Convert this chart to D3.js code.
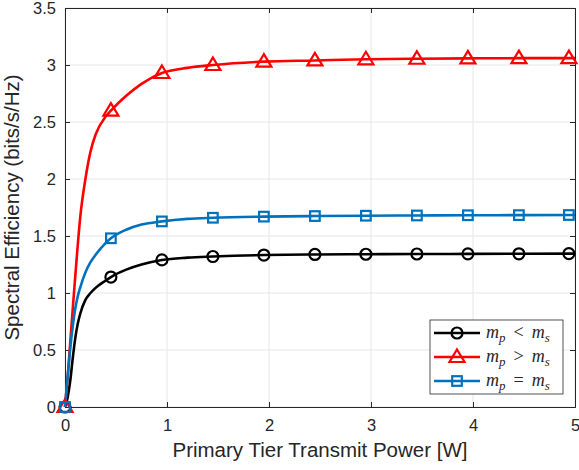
<!DOCTYPE html>
<html>
<head>
<meta charset="utf-8">
<script src="https://cdn.jsdelivr.net/npm/d3@7"></script>
<style>
  body { margin: 0; background: #fff; }
  svg text { font-family: "Liberation Sans", Arial, Helvetica, sans-serif; fill: #262626; }
</style>
</head>
<body>
<script>
// curve samples
const powerW = [0, 0.025, 0.05, 0.075, 0.1, 0.125, 0.15, 0.2, 0.25, 0.3, 0.4, 0.45, 0.6, 0.75, 0.95, 1.2, 1.45, 1.95, 2.45, 2.95, 3.45, 3.95, 4.45, 5]
const seLess = [0, 0.08, 0.22, 0.42, 0.6, 0.73, 0.82, 0.94, 1.0, 1.045, 1.11, 1.14, 1.205, 1.25, 1.29, 1.31, 1.32, 1.333, 1.338, 1.34, 1.342, 1.343, 1.344, 1.345]
const seGreater = [0, 0.25, 0.55, 0.85, 1.14, 1.42, 1.67, 2.0, 2.24, 2.39, 2.55, 2.6, 2.73, 2.835, 2.93, 2.975, 3.0, 3.03, 3.04, 3.05, 3.055, 3.058, 3.06, 3.06]
const seEqual = [0, 0.26, 0.5, 0.7, 0.86, 0.97, 1.05, 1.18, 1.27, 1.335, 1.44, 1.48, 1.555, 1.6, 1.628, 1.65, 1.66, 1.67, 1.675, 1.678, 1.68, 1.682, 1.683, 1.684]

// marker positions
const markerX = [0, 0.45, 0.95, 1.45, 1.95, 2.45, 2.95, 3.45, 3.95, 4.45, 4.94]
const mkLess = [0, 1.14, 1.29, 1.32, 1.333, 1.338, 1.34, 1.342, 1.343, 1.344, 1.345]
const mkGreater = [0, 2.6, 2.93, 3.0, 3.03, 3.04, 3.05, 3.055, 3.058, 3.06, 3.06]
const mkEqual = [0, 1.48, 1.628, 1.66, 1.67, 1.675, 1.678, 1.68, 1.682, 1.683, 1.684]

const xTicks = [0, 1, 2, 3, 4, 5]
const yTicks = [0, 0.5, 1, 1.5, 2, 2.5, 3, 3.5]

const series = [
  { name: "less", ys: seLess, mk: mkLess, color: "#000000", marker: "circle", rel: "<" },
  { name: "greater", ys: seGreater, mk: mkGreater, color: "#ff0000", marker: "triangle", rel: ">" },
  { name: "equal", ys: seEqual, mk: mkEqual, color: "#0072bd", marker: "square", rel: "=" }
]

const W = 579, H = 470
const margin = { left: 65, right: 4, top: 8, bottom: 63 }

const svg = d3.select("body").append("svg")
  .attr("width", W)
  .attr("height", H)

const x = d3.scaleLinear().domain([0, 5]).range([margin.left, W - margin.right])
const y = d3.scaleLinear().domain([0, 3.5]).range([H - margin.bottom, margin.top])

// grid
svg.append("g").selectAll("line")
  .data(xTicks)
  .enter().append("line")
  .attr("x1", d => x(d)).attr("x2", d => x(d))
  .attr("y1", y(0)).attr("y2", y(3.5))
  .attr("stroke", "#e6e6e6").attr("stroke-width", 1)

svg.append("g").selectAll("line")
  .data(yTicks)
  .enter().append("line")
  .attr("x1", x(0)).attr("x2", x(5))
  .attr("y1", d => y(d)).attr("y2", d => y(d))
  .attr("stroke", "#e6e6e6").attr("stroke-width", 1)

// axes (ticks inward on all four sides)
const xAxis = svg.append("g")
  .attr("transform", `translate(0,${y(0)})`)
  .call(d3.axisBottom(x).tickValues(xTicks).tickSize(-5).tickPadding(12).tickFormat(d3.format("")))
const xTop = svg.append("g")
  .attr("transform", `translate(0,${y(3.5)})`)
  .call(d3.axisTop(x).tickValues(xTicks).tickSize(-5).tickFormat(""))
const yAxis = svg.append("g")
  .attr("transform", `translate(${x(0)},0)`)
  .call(d3.axisLeft(y).tickValues(yTicks).tickSize(-5).tickPadding(9).tickFormat(d3.format("")))
const yRight = svg.append("g")
  .attr("transform", `translate(${x(5)},0)`)
  .call(d3.axisRight(y).tickValues(yTicks).tickSize(-5).tickFormat(""))

for (let ax of [xAxis, xTop, yAxis, yRight]) {
  ax.select(".domain").attr("stroke", "#262626").attr("stroke-width", 1)
  ax.selectAll(".tick line").attr("stroke", "#262626")
  ax.selectAll(".tick text").attr("font-size", 16.5).attr("fill", "#262626")
    .style("font-family", "Liberation Sans, Arial, sans-serif")
}

// axis labels
svg.append("text")
  .attr("x", (x(0) + x(5)) / 2)
  .attr("y", 457)
  .attr("text-anchor", "middle")
  .attr("font-size", 20.5)
  .text("Primary Tier Transmit Power [W]")

svg.append("text")
  .attr("transform", `translate(19,${(y(0) + y(3.5)) / 2}) rotate(-90)`)
  .attr("text-anchor", "middle")
  .attr("font-size", 20.5)
  .text("Spectral Efficiency (bits/s/Hz)")

// curves
const line = d3.line()
  .x(d => x(d[0]))
  .y(d => y(d[1]))
  .curve(d3.curveMonotoneX)

function drawMarker(g, type, color, cx, cy) {
  if (type === "circle") {
    g.append("circle").attr("cx", cx).attr("cy", cy).attr("r", 5.5)
      .attr("fill", "none").attr("stroke", color).attr("stroke-width", 2.2)
  } else if (type === "triangle") {
    g.append("path")
      .attr("d", `M${cx},${cy - 7.5} L${cx + 7.5},${cy + 5} L${cx - 7.5},${cy + 5} Z`)
      .attr("fill", "none").attr("stroke", color).attr("stroke-width", 2.2)
  } else {
    g.append("rect").attr("x", cx - 4.8).attr("y", cy - 4.8).attr("width", 9.6).attr("height", 9.6)
      .attr("fill", "none").attr("stroke", color).attr("stroke-width", 2.2)
  }
}

for (let s of series) {
  let pts = powerW.map((p, i) => [p, s.ys[i]])
  svg.append("path")
    .datum(pts)
    .attr("d", line)
    .attr("fill", "none")
    .attr("stroke", s.color)
    .attr("stroke-width", 2.6)
}
for (let s of series) {
  let g = svg.append("g")
  markerX.forEach((p, i) => drawMarker(g, s.marker, s.color, x(p), y(s.mk[i])))
}

// legend
const legend = svg.append("g").attr("transform", "translate(430,320)")
legend.append("rect")
  .attr("width", 133).attr("height", 74)
  .attr("fill", "#fff").attr("stroke", "#262626").attr("stroke-width", 0.8)

series.forEach((s, i) => {
  let ly = 13 + i * 24
  legend.append("line")
    .attr("x1", 4).attr("x2", 50).attr("y1", ly).attr("y2", ly)
    .attr("stroke", s.color).attr("stroke-width", 2.6)
  drawMarker(legend, s.marker, s.color, 27, ly)
  let t = legend.append("text")
    .attr("x", 56).attr("y", ly + 5)
    .attr("font-size", 18)
    .style("font-family", "Liberation Serif, 'DejaVu Serif', serif")
  t.append("tspan").attr("font-style", "italic").text("m")
  t.append("tspan").attr("font-style", "italic").attr("font-size", 13).attr("dy", 4).text("p")
  t.append("tspan").attr("dy", -4).attr("dx", 8).text(s.rel)
  t.append("tspan").attr("dx", 8).attr("font-style", "italic").text("m")
  t.append("tspan").attr("font-style", "italic").attr("font-size", 13).attr("dy", 4).text("s")
})
</script>
</body>
</html>
